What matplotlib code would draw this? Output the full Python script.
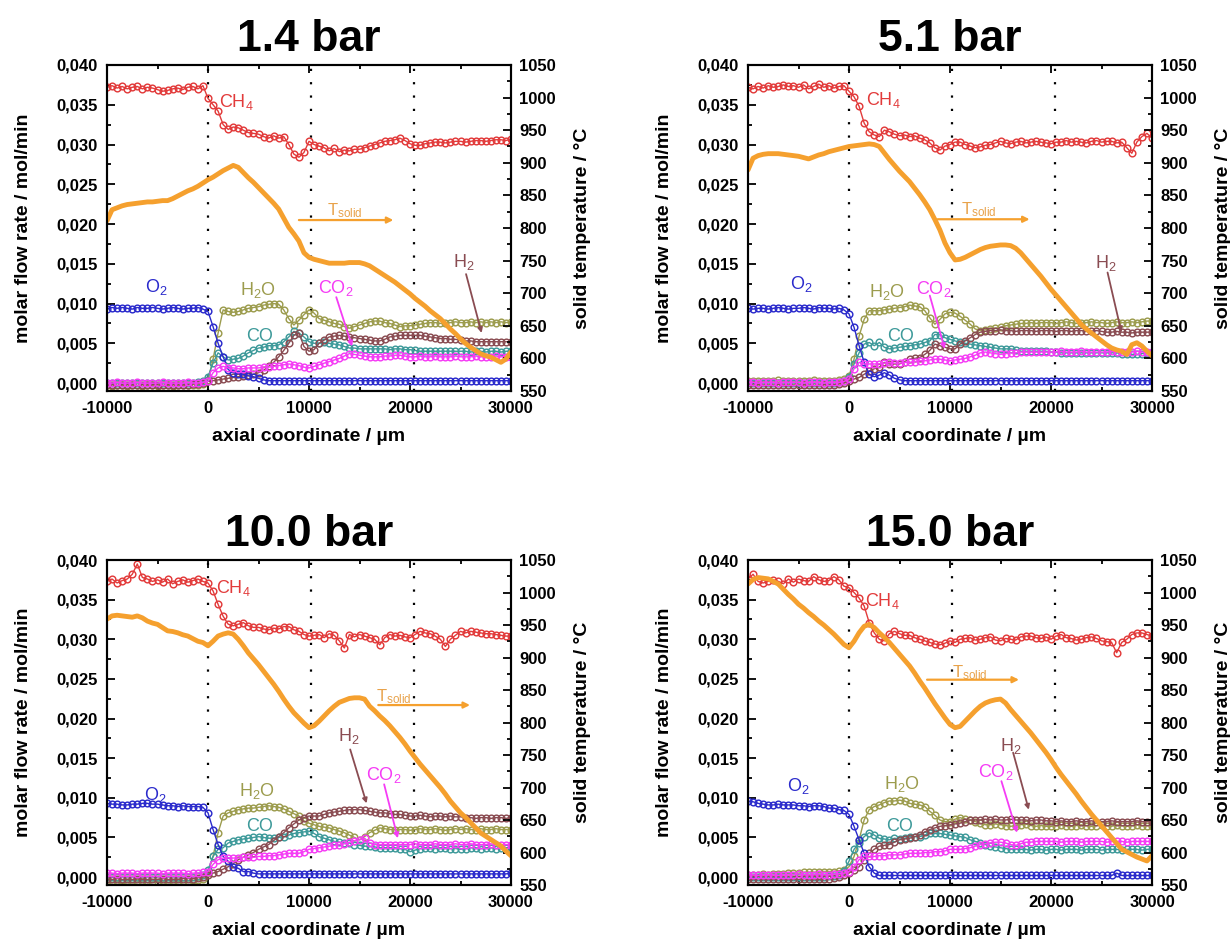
import numpy as np
import matplotlib
matplotlib.use('Agg')
import matplotlib.pyplot as plt
from matplotlib.ticker import MultipleLocator, FuncFormatter

plt.rcParams['font.family'] = ['Liberation Sans', 'DejaVu Sans']
plt.rcParams['mathtext.default'] = 'regular'

# axial positions of the measurement points, um
x_um = np.arange(-10000, 30001, 500)

# molar flow rates in 1e-3 mol/min, solid temperature in degC
# ---- 1.4 bar
ch4_14 = [37.2, 37.4, 37.1, 37.3, 37.0, 37.2, 37.3, 37.0, 37.2, 37.1,
          36.9, 36.7, 36.8, 37.0, 37.1, 36.9, 37.2, 37.3, 37.0, 37.4,
          35.8, 35.0, 34.2, 32.5, 31.9, 32.2, 32.1, 31.8, 31.5, 31.4,
          31.3, 31.0, 30.8, 31.1, 30.8, 31.0, 30.0, 28.8, 28.4, 29.0,
          30.4, 30.0, 29.8, 29.6, 29.2, 29.5, 29.1, 29.3, 29.2, 29.4,
          29.4, 29.6, 29.8, 30.0, 30.2, 30.4, 30.5, 30.6, 30.8, 30.5,
          30.1, 29.9, 29.9, 30.1, 30.2, 30.3, 30.3, 30.2, 30.3, 30.4,
          30.4, 30.3, 30.4, 30.5, 30.5, 30.4, 30.5, 30.6, 30.6, 30.5,
          30.7]
o2_14 = [9.3, 9.5, 9.4, 9.5, 9.4, 9.3, 9.5, 9.4, 9.4, 9.5,
         9.4, 9.3, 9.4, 9.5, 9.4, 9.3, 9.4, 9.4, 9.5, 9.3,
         9.0, 7.1, 5.0, 3.3, 1.7, 1.3, 1.2, 1.1, 0.9, 0.8,
         0.6, 0.4, 0.3, 0.3, 0.3, 0.3, 0.3, 0.3, 0.3, 0.3,
         0.3, 0.3, 0.3, 0.3, 0.3, 0.3, 0.3, 0.3, 0.3, 0.3,
         0.3, 0.3, 0.3, 0.3, 0.3, 0.3, 0.3, 0.3, 0.3, 0.3,
         0.3, 0.3, 0.3, 0.3, 0.3, 0.3, 0.3, 0.3, 0.3, 0.3,
         0.3, 0.3, 0.3, 0.3, 0.3, 0.3, 0.3, 0.3, 0.3, 0.3,
         0.3]
h2o_14 = [-0.3, -0.4, -0.3, -0.3, -0.4, -0.3, -0.3, -0.4, -0.3, -0.3,
          -0.4, -0.3, -0.3, -0.4, -0.3, -0.3, -0.3, -0.2, -0.2, -0.1,
          0.4, 3.0, 6.3, 9.2, 9.0, 8.9, 9.0, 9.2, 9.4, 9.5,
          9.6, 9.8, 9.9, 10.0, 9.9, 9.2, 8.1, 7.3, 7.9, 8.6,
          9.2, 8.8, 8.1, 7.9, 7.7, 7.5, 7.4, 7.1, 6.9, 7.1,
          7.3, 7.5, 7.7, 7.8, 7.8, 7.6, 7.5, 7.3, 7.1, 7.2,
          7.2, 7.3, 7.4, 7.5, 7.6, 7.6, 7.5, 7.6, 7.6, 7.7,
          7.6, 7.6, 7.7, 7.6, 7.7, 7.6, 7.7, 7.6, 7.7, 7.6,
          7.7]
co_14 = [0.0, 0.0, 0.0, 0.0, 0.0, 0.0, 0.0, 0.0, 0.0, 0.0,
         0.0, 0.0, 0.0, 0.0, 0.0, 0.0, 0.0, 0.0, 0.1, 0.2,
         0.8, 2.5, 3.8, 3.3, 2.9, 3.0, 3.1, 3.4, 3.8, 4.1,
         4.4, 4.5, 4.7, 4.7, 4.8, 5.2, 5.8, 6.5, 6.3, 5.8,
         5.2, 5.0, 5.0, 5.1, 5.0, 4.9, 4.8, 4.6, 4.4, 4.4,
         4.3, 4.3, 4.3, 4.3, 4.3, 4.3, 4.2, 4.3, 4.3, 4.2,
         4.2, 4.1, 4.0, 4.0, 4.0, 4.0, 4.0, 4.0, 4.0, 4.0,
         4.0, 4.0, 3.9, 4.0, 4.0, 3.9, 4.0, 4.0, 3.9, 4.0,
         4.0]
co2_14 = [0.0, 0.0, 0.1, 0.0, 0.0, 0.0, 0.1, 0.0, 0.0, 0.0,
          0.0, 0.1, 0.0, 0.0, 0.0, 0.0, 0.1, 0.0, 0.0, 0.1,
          0.2, 1.3, 1.9, 2.1, 1.9, 1.9, 1.8, 1.8, 1.9, 1.9,
          1.9, 2.0, 2.0, 2.1, 2.2, 2.3, 2.4, 2.3, 2.2, 2.0,
          1.9, 2.1, 2.3, 2.5, 2.7, 2.9, 3.1, 3.4, 3.7, 3.6,
          3.5, 3.4, 3.3, 3.3, 3.3, 3.4, 3.4, 3.5, 3.5, 3.4,
          3.3, 3.3, 3.4, 3.3, 3.3, 3.4, 3.3, 3.3, 3.3, 3.4,
          3.3, 3.3, 3.3, 3.4, 3.3, 3.3, 3.3, 3.4, 3.3, 3.3,
          3.3]
h2_14 = [-0.2, -0.2, -0.3, -0.2, -0.2, -0.2, -0.3, -0.2, -0.2, -0.2,
         -0.2, -0.3, -0.2, -0.2, -0.2, -0.2, -0.2, -0.1, -0.1, 0.0,
         0.2, 0.3, 0.4, 0.5, 0.6, 0.7, 0.8, 0.9, 1.0, 1.1,
         1.3, 1.6, 2.1, 2.6, 3.3, 4.1, 5.0, 6.0, 6.3, 4.6,
         4.0, 4.2, 5.0, 5.4, 5.8, 5.9, 6.0, 5.9, 5.8, 5.7,
         5.6, 5.5, 5.4, 5.3, 5.3, 5.5, 5.8, 5.9, 6.0, 6.0,
         6.0, 6.0, 6.0, 5.9, 5.8, 5.7, 5.6, 5.6, 5.5, 5.5,
         5.4, 5.3, 5.3, 5.2, 5.2, 5.2, 5.2, 5.2, 5.2, 5.2,
         5.2]
t_14 = [811, 828, 831, 834, 836, 837, 838, 839, 840, 840,
        841, 842, 842, 845, 849, 853, 857, 860, 864, 869,
        874, 878, 883, 888, 892, 896, 893, 885, 877, 870,
        862, 854, 846, 838, 829, 815, 801, 791, 780, 762,
        755, 752, 750, 748, 746, 746, 746, 746, 747, 747,
        747, 745, 742, 737, 732, 727, 722, 717, 711, 705,
        699, 692, 686, 680, 673, 667, 661, 653, 645, 638,
        630, 623, 617, 612, 607, 604, 602, 598, 594, 599,
        610]

# ---- 5.1 bar
ch4_51 = [37.2, 37.0, 37.3, 37.1, 37.4, 37.2, 37.3, 37.5, 37.3, 37.4,
          37.2, 37.5, 37.0, 37.3, 37.6, 37.2, 37.4, 37.1, 37.3, 37.4,
          36.7, 36.0, 34.8, 32.7, 31.6, 31.2, 31.0, 31.8, 31.6, 31.3,
          31.1, 31.2, 31.0, 31.1, 30.8, 30.6, 30.2, 29.6, 29.3, 29.8,
          30.0, 30.3, 30.3, 30.0, 29.8, 29.6, 29.7, 29.9, 30.0, 30.2,
          30.4, 30.2, 30.1, 30.3, 30.4, 30.2, 30.3, 30.4, 30.3, 30.2,
          30.1, 30.3, 30.3, 30.5, 30.3, 30.4, 30.3, 30.2, 30.4, 30.5,
          30.3, 30.4, 30.4, 30.2, 30.3, 29.6, 28.9, 30.3, 31.0, 31.4,
          30.8]
o2_51 = [9.4, 9.3, 9.4, 9.4, 9.3, 9.4, 9.5, 9.4, 9.3, 9.4,
         9.4, 9.5, 9.4, 9.3, 9.5, 9.4, 9.4, 9.3, 9.4, 9.2,
         8.7, 7.0, 4.7, 2.6, 1.1, 0.8, 1.0, 1.3, 1.0, 0.6,
         0.4, 0.3, 0.3, 0.3, 0.3, 0.3, 0.3, 0.3, 0.3, 0.3,
         0.3, 0.3, 0.3, 0.3, 0.3, 0.3, 0.3, 0.3, 0.3, 0.3,
         0.3, 0.3, 0.3, 0.3, 0.3, 0.3, 0.3, 0.3, 0.3, 0.3,
         0.3, 0.3, 0.3, 0.3, 0.3, 0.3, 0.3, 0.3, 0.3, 0.3,
         0.3, 0.3, 0.3, 0.3, 0.3, 0.3, 0.3, 0.3, 0.3, 0.3,
         0.3]
h2o_51 = [0.3, 0.2, 0.3, 0.3, 0.2, 0.3, 0.4, 0.3, 0.2, 0.3,
          0.3, 0.2, 0.3, 0.4, 0.3, 0.2, 0.3, 0.3, 0.4, 0.5,
          0.9, 3.0, 5.9, 8.0, 9.1, 9.1, 9.1, 9.2, 9.3, 9.4,
          9.5, 9.6, 9.8, 9.7, 9.6, 9.1, 8.2, 7.4, 8.0, 8.7,
          8.9, 8.8, 8.4, 7.9, 7.4, 6.8, 6.6, 6.7, 6.8, 6.9,
          7.0, 7.2, 7.3, 7.4, 7.5, 7.5, 7.6, 7.5, 7.6, 7.6,
          7.6, 7.5, 7.6, 7.7, 7.6, 7.5, 7.6, 7.6, 7.7, 7.6,
          7.6, 7.5, 7.6, 7.7, 7.6, 7.6, 7.7, 7.6, 7.7, 7.8,
          7.8]
co_51 = [0.0, 0.0, 0.0, 0.0, 0.0, 0.0, 0.0, 0.0, 0.0, 0.0,
         0.0, 0.0, 0.0, 0.0, 0.0, 0.0, 0.0, 0.0, 0.1, 0.2,
         0.7, 2.4, 3.8, 4.9, 5.1, 4.7, 5.1, 4.5, 4.3, 4.4,
         4.5, 4.6, 4.7, 4.8, 4.9, 5.1, 5.3, 6.1, 6.1, 5.7,
         5.5, 5.3, 5.1, 5.0, 4.9, 4.8, 4.7, 4.6, 4.5, 4.4,
         4.3, 4.3, 4.3, 4.2, 4.0, 4.0, 4.0, 4.0, 4.0, 4.0,
         3.9, 3.9, 3.8, 3.8, 3.8, 3.8, 3.8, 3.8, 3.8, 3.8,
         3.8, 3.8, 3.8, 3.8, 3.7, 3.7, 3.6, 3.6, 3.7, 3.8,
         3.8]
co2_51 = [0.1, 0.1, 0.0, 0.1, 0.1, 0.1, 0.0, 0.1, 0.1, 0.1,
          0.1, 0.0, 0.1, 0.1, 0.1, 0.0, 0.1, 0.1, 0.1, 0.2,
          0.5, 1.8, 2.6, 2.4, 2.4, 2.4, 2.4, 2.5, 2.6, 2.5,
          2.5, 2.6, 2.6, 2.7, 2.8, 2.8, 2.9, 3.0, 3.0, 2.9,
          2.8, 2.9, 3.0, 3.1, 3.3, 3.5, 3.8, 3.9, 3.8, 3.7,
          3.6, 3.7, 3.8, 3.8, 3.9, 3.9, 3.9, 3.9, 3.9, 3.9,
          3.9, 3.9, 4.0, 3.9, 3.9, 3.9, 4.0, 3.9, 3.9, 3.9,
          3.9, 3.9, 4.0, 3.9, 3.9, 3.9, 3.9, 4.0, 3.9, 3.9,
          3.9]
h2_51 = [-0.3, -0.3, -0.2, -0.3, -0.3, -0.3, -0.2, -0.3, -0.3, -0.3,
         -0.3, -0.2, -0.3, -0.3, -0.3, -0.2, -0.2, -0.2, -0.1, 0.0,
         0.3, 0.5, 0.7, 1.1, 1.5, 1.8, 2.0, 2.6, 2.4, 2.4,
         2.4, 2.7, 3.0, 3.1, 3.2, 3.6, 4.1, 4.9, 4.7, 4.5,
         4.3, 4.3, 4.9, 5.3, 5.7, 6.1, 6.4, 6.5, 6.6, 6.6,
         6.7, 6.6, 6.6, 6.5, 6.6, 6.6, 6.6, 6.5, 6.6, 6.6,
         6.6, 6.5, 6.6, 6.6, 6.5, 6.6, 6.6, 6.5, 6.5, 6.6,
         6.5, 6.4, 6.4, 6.5, 6.4, 6.4, 6.3, 6.4, 6.4, 6.4,
         6.4]
t_51 = [889, 907, 911, 913, 914, 914, 914, 913, 912, 911,
        910, 908, 906, 909, 912, 914, 917, 919, 921, 923,
        925, 926, 927, 928, 929, 928, 925, 915, 905, 896,
        887, 879, 871, 861, 851, 840, 828, 813, 797, 777,
        762, 751, 752, 755, 759, 763, 767, 770, 772, 773,
        774, 774, 773, 769, 762, 753, 744, 735, 726, 716,
        706, 697, 688, 679, 670, 661, 652, 645, 639, 633,
        627, 621, 616, 613, 611, 606, 621, 624, 619, 611,
        604]

# ---- 10.0 bar
ch4_10 = [37.3, 37.6, 37.1, 37.4, 37.6, 38.2, 39.5, 37.8, 37.6, 37.3,
          37.5, 37.2, 37.6, 37.0, 37.3, 37.5, 37.2, 37.4, 37.6, 37.3,
          37.1, 36.1, 34.4, 32.9, 31.9, 31.7, 31.9, 32.1, 31.7, 31.5,
          31.5, 31.3, 31.2, 31.4, 31.3, 31.6, 31.6, 31.2, 31.0, 30.6,
          30.4, 30.5, 30.6, 30.2, 30.7, 30.5, 29.8, 28.9, 30.6, 30.3,
          30.6, 30.4, 30.2, 30.0, 29.3, 30.2, 30.6, 30.4, 30.5, 30.3,
          30.2, 30.6, 31.0, 30.8, 30.7, 30.4, 30.0, 29.1, 30.0, 30.5,
          31.0, 30.8, 31.0, 30.9, 30.8, 30.7, 30.7, 30.6, 30.5, 30.4,
          30.4]
o2_10 = [9.3, 9.2, 9.2, 9.1, 9.1, 9.2, 9.2, 9.3, 9.3, 9.2,
         9.2, 9.1, 9.0, 9.0, 8.9, 9.0, 8.9, 8.9, 8.9, 8.8,
         8.1, 6.0, 4.1, 2.6, 2.0, 1.3, 1.1, 0.7, 0.7, 0.5,
         0.4, 0.4, 0.4, 0.4, 0.4, 0.4, 0.4, 0.4, 0.4, 0.4,
         0.4, 0.4, 0.4, 0.4, 0.4, 0.4, 0.4, 0.4, 0.4, 0.4,
         0.4, 0.4, 0.4, 0.4, 0.4, 0.4, 0.4, 0.4, 0.4, 0.4,
         0.4, 0.4, 0.4, 0.4, 0.4, 0.4, 0.4, 0.4, 0.4, 0.4,
         0.4, 0.4, 0.4, 0.4, 0.4, 0.4, 0.4, 0.4, 0.4, 0.4,
         0.5]
h2o_10 = [-0.6, -0.7, -0.5, -0.8, -0.6, -0.7, -0.6, -0.5, -0.7, -0.6,
          -0.6, -0.5, -0.7, -0.6, -0.6, -0.5, -0.5, -0.4, -0.4, -0.2,
          0.5, 2.6, 5.6, 7.7, 8.1, 8.3, 8.5, 8.6, 8.7, 8.7,
          8.8, 8.9, 9.0, 8.9, 8.8, 8.6, 8.3, 8.0, 7.7, 7.1,
          6.8, 6.6, 6.4, 6.3, 6.2, 6.0, 5.8, 5.6, 5.3, 5.0,
          4.7, 5.1, 5.6, 5.9, 6.2, 6.1, 6.0, 6.0, 6.0, 6.0,
          5.9, 6.0, 6.1, 6.0, 6.0, 6.1, 6.0, 5.9, 6.0, 6.1,
          6.0, 6.1, 6.0, 6.0, 6.1, 6.0, 6.0, 6.1, 6.0, 6.0,
          6.0]
co_10 = [0.0, 0.0, 0.0, 0.0, 0.0, 0.0, 0.0, 0.0, 0.0, 0.0,
         0.0, 0.0, 0.0, 0.0, 0.0, 0.0, 0.0, 0.0, 0.1, 0.3,
         0.9, 2.6, 3.5, 3.7, 4.3, 4.5, 4.7, 4.8, 4.9, 5.0,
         5.1, 5.0, 4.9, 4.9, 5.0, 5.1, 5.3, 5.5, 5.6, 5.7,
         5.8, 5.5, 5.1, 4.9, 4.7, 4.5, 4.4, 4.3, 4.3, 4.1,
         4.0, 3.9, 3.9, 3.8, 3.7, 3.7, 3.7, 3.7, 3.6, 3.5,
         3.2, 3.4, 3.6, 3.7, 3.7, 3.6, 3.7, 3.7, 3.6, 3.6,
         3.5, 3.6, 3.7, 3.7, 3.6, 3.7, 3.7, 3.6, 3.7, 3.7,
         3.7]
co2_10 = [0.5, 0.5, 0.4, 0.5, 0.5, 0.5, 0.4, 0.5, 0.5, 0.5,
          0.5, 0.4, 0.5, 0.5, 0.5, 0.5, 0.4, 0.5, 0.5, 0.6,
          0.7, 1.6, 2.2, 2.4, 2.4, 2.4, 2.4, 2.5, 2.5, 2.5,
          2.6, 2.6, 2.7, 2.7, 2.8, 2.9, 3.0, 3.0, 3.0, 3.2,
          3.5, 3.6, 3.7, 3.8, 3.9, 4.0, 4.1, 4.2, 4.4, 4.6,
          4.7, 4.9, 4.3, 4.1, 4.1, 4.1, 4.1, 4.1, 4.1, 4.1,
          4.1, 4.2, 4.1, 4.1, 4.1, 4.2, 4.1, 4.1, 4.1, 4.2,
          4.1, 4.1, 4.2, 4.1, 4.1, 4.1, 4.2, 4.1, 4.1, 4.1,
          4.1]
h2_10 = [-0.3, -0.3, -0.2, -0.3, -0.3, -0.3, -0.2, -0.3, -0.3, -0.3,
         -0.3, -0.2, -0.3, -0.3, -0.3, -0.2, -0.2, -0.2, -0.1, 0.0,
         0.3, 0.5, 0.7, 1.0, 1.3, 1.7, 2.2, 2.5, 2.8, 3.1,
         3.5, 3.8, 4.1, 4.6, 5.1, 5.6, 6.2, 6.7, 7.2, 7.5,
         7.7, 7.7, 7.7, 7.9, 8.1, 8.2, 8.3, 8.4, 8.5, 8.5,
         8.5, 8.4, 8.3, 8.2, 8.1, 8.1, 8.0, 7.9, 7.9, 7.8,
         7.7, 7.7, 7.8, 7.7, 7.6, 7.7, 7.7, 7.6, 7.7, 7.6,
         7.6, 7.5, 7.5, 7.4, 7.5, 7.5, 7.4, 7.5, 7.5, 7.4,
         7.5]
t_10 = [959, 964, 965, 964, 963, 962, 964, 961, 956, 953,
        951, 946, 941, 940, 938, 935, 933, 929, 925, 923,
        918, 925, 933, 936, 938, 936, 928, 918, 907, 898,
        889, 879, 869, 859, 848, 836, 825, 815, 807, 799,
        792, 795, 802, 810, 818, 825, 831, 834, 837, 838,
        838, 836, 825, 818, 810, 803, 795, 786, 777, 767,
        756, 746, 736, 727, 718, 709, 700, 690, 679, 670,
        661, 654, 646, 638, 630, 625, 620, 615, 610, 602,
        595]

# ---- 15.0 bar
ch4_15 = [37.6, 38.2, 37.3, 37.1, 37.3, 37.5, 37.3, 37.0, 37.6, 37.2,
          37.6, 37.4, 37.3, 37.9, 37.5, 37.3, 37.4, 37.9, 37.5, 36.7,
          36.5, 35.9, 35.2, 34.2, 32.1, 30.8, 30.0, 29.8, 30.7, 31.0,
          30.7, 30.5, 30.5, 30.2, 30.0, 29.8, 29.6, 29.4, 29.3, 29.5,
          29.8, 29.6, 30.0, 30.1, 30.2, 29.9, 30.0, 30.2, 30.3, 29.9,
          29.8, 30.1, 30.0, 29.9, 30.3, 30.4, 30.4, 30.2, 30.1, 30.3,
          30.0, 30.4, 30.6, 30.2, 30.1, 29.9, 30.0, 30.2, 30.3, 30.1,
          29.8, 29.7, 29.6, 28.3, 29.6, 30.0, 30.6, 30.8, 30.8, 30.6,
          30.4]
o2_15 = [9.6, 9.5, 9.3, 9.2, 9.1, 9.1, 9.2, 9.1, 9.1, 9.1,
         9.0, 9.0, 8.9, 9.0, 9.0, 8.9, 8.7, 8.7, 8.5, 8.4,
         7.9, 6.4, 4.7, 3.0, 1.3, 0.5, 0.2, 0.2, 0.2, 0.2,
         0.2, 0.2, 0.2, 0.2, 0.2, 0.2, 0.2, 0.2, 0.2, 0.2,
         0.2, 0.2, 0.2, 0.2, 0.2, 0.2, 0.2, 0.2, 0.2, 0.2,
         0.2, 0.2, 0.2, 0.2, 0.2, 0.2, 0.2, 0.2, 0.2, 0.2,
         0.2, 0.2, 0.2, 0.2, 0.2, 0.2, 0.2, 0.2, 0.2, 0.2,
         0.2, 0.2, 0.2, 0.5, 0.2, 0.2, 0.2, 0.2, 0.2, 0.2,
         0.2]
h2o_15 = [0.3, 0.3, 0.3, 0.4, 0.3, 0.4, 0.4, 0.4, 0.5, 0.5,
          0.5, 0.6, 0.6, 0.6, 0.6, 0.7, 0.7, 0.7, 0.8, 0.9,
          1.3, 2.6, 4.7, 7.2, 8.5, 8.9, 9.1, 9.4, 9.6, 9.6,
          9.7, 9.6, 9.3, 9.2, 9.1, 8.9, 8.3, 7.8, 7.2, 7.0,
          7.0, 7.3, 7.5, 7.3, 7.2, 7.0, 6.8, 6.6, 6.6, 6.7,
          6.6, 6.5, 6.4, 6.5, 6.6, 6.7, 6.5, 6.4, 6.5, 6.4,
          6.4, 6.5, 6.6, 6.5, 6.4, 6.5, 6.6, 6.5, 6.4, 6.5,
          6.6, 6.5, 6.4, 6.6, 6.5, 6.4, 6.5, 6.6, 6.5, 6.5,
          6.5]
co_15 = [0.0, 0.0, 0.0, 0.0, 0.0, 0.0, 0.0, 0.0, 0.0, 0.0,
         0.0, 0.0, 0.0, 0.0, 0.0, 0.0, 0.1, 0.1, 0.3, 0.8,
         2.0, 3.5, 4.3, 5.1, 5.6, 5.3, 4.9, 4.8, 4.7, 4.9,
         4.8, 4.9, 5.1, 5.1, 5.1, 5.3, 5.6, 5.5, 5.5, 5.4,
         5.3, 5.2, 5.1, 5.0, 4.7, 4.5, 4.3, 4.1, 3.9, 3.8,
         3.7, 3.6, 3.5, 3.5, 3.5, 3.5, 3.4, 3.5, 3.5, 3.4,
         3.5, 3.5, 3.4, 3.5, 3.5, 3.5, 3.4, 3.5, 3.5, 3.5,
         3.4, 3.5, 3.5, 3.5, 3.4, 3.5, 3.5, 3.5, 3.4, 3.5,
         3.5]
co2_15 = [0.3, 0.3, 0.2, 0.3, 0.3, 0.3, 0.2, 0.3, 0.3, 0.3,
          0.4, 0.3, 0.3, 0.3, 0.4, 0.3, 0.3, 0.4, 0.4, 0.5,
          0.7, 1.3, 2.2, 2.6, 2.6, 2.6, 2.7, 2.7, 2.8, 2.8,
          2.8, 2.9, 3.0, 3.0, 3.0, 3.1, 3.1, 3.2, 3.2, 3.3,
          3.5, 3.5, 3.5, 3.6, 3.7, 3.9, 4.1, 4.2, 4.3, 4.4,
          4.4, 4.3, 4.1, 4.0, 4.2, 4.4, 4.4, 4.5, 4.5, 4.5,
          4.5, 4.5, 4.4, 4.5, 4.5, 4.5, 4.4, 4.5, 4.5, 4.5,
          4.5, 4.4, 4.5, 4.5, 4.5, 4.4, 4.5, 4.5, 4.5, 4.5,
          4.5]
h2_15 = [-0.3, -0.3, -0.2, -0.3, -0.3, -0.3, -0.2, -0.3, -0.3, -0.3,
         -0.3, -0.2, -0.3, -0.3, -0.3, -0.2, -0.2, -0.1, 0.0, 0.2,
         0.5, 0.9, 1.3, 2.2, 3.0, 3.5, 3.9, 4.0, 4.1, 4.4,
         4.7, 4.8, 4.9, 5.1, 5.3, 5.7, 6.0, 6.2, 6.4, 6.5,
         6.6, 6.7, 6.8, 7.0, 7.2, 7.2, 7.2, 7.3, 7.2, 7.3,
         7.2, 7.2, 7.3, 7.2, 7.2, 7.2, 7.1, 7.2, 7.2, 7.1,
         7.1, 7.0, 7.1, 7.0, 7.0, 7.1, 7.0, 7.0, 7.1, 7.0,
         7.0, 7.0, 7.1, 7.0, 7.0, 7.0, 7.0, 7.1, 7.0, 7.0,
         7.0]
t_15 = [1013, 1020, 1023, 1022, 1021, 1017, 1013, 1005, 997, 990,
        982, 976, 969, 963, 956, 950, 943, 936, 928, 920,
        915, 925, 938, 948, 951, 946, 938, 931, 923, 914,
        905, 896, 887, 876, 864, 853, 841, 829, 818, 807,
        797, 792, 794, 802, 810, 818, 825, 830, 833, 835,
        836, 830, 820, 811, 802, 793, 784, 774, 764, 754,
        743, 731, 720, 710, 700, 690, 679, 669, 659, 650,
        641, 632, 623, 614, 605, 601, 597, 593, 590, 587,
        595]

pressures = ['1.4 bar', '5.1 bar', '10.0 bar', '15.0 bar']
species = ['H$_2$O', 'CO', 'H$_2$', 'O$_2$', 'CH$_4$', 'CO$_2$']
seg_bounds = [0, 10150, 20400]

col = {'CH$_4$': '#e23b3b', 'O$_2$': '#2b2bcc', 'H$_2$O': '#9c9c4e',
       'CO': '#3e9a9a', 'CO$_2$': '#f53cf5', 'H$_2$': '#8a4c52'}
col_t = '#f5a02e'

flows = [
    {'H$_2$O': h2o_14, 'CO': co_14, 'H$_2$': h2_14, 'O$_2$': o2_14, 'CH$_4$': ch4_14, 'CO$_2$': co2_14},
    {'H$_2$O': h2o_51, 'CO': co_51, 'H$_2$': h2_51, 'O$_2$': o2_51, 'CH$_4$': ch4_51, 'CO$_2$': co2_51},
    {'H$_2$O': h2o_10, 'CO': co_10, 'H$_2$': h2_10, 'O$_2$': o2_10, 'CH$_4$': ch4_10, 'CO$_2$': co2_10},
    {'H$_2$O': h2o_15, 'CO': co_15, 'H$_2$': h2_15, 'O$_2$': o2_15, 'CH$_4$': ch4_15, 'CO$_2$': co2_15},
]
temps = [t_14, t_51, t_10, t_15]

# label placement (x in um, y in mol/min); arrows as (x0, y0, x1, y1)
label_pos = [
    {'CH$_4$': (2800, 0.0354), 'O$_2$': (-5150, 0.0121), 'H$_2$O': (4950, 0.0117),
     'CO': (5150, 0.0058), 'CO$_2$': (12700, 0.0120), 'H$_2$': (25350, 0.0152), 'T': (13500, 0.0217)},
    {'CH$_4$': (3360, 0.0356), 'O$_2$': (-4770, 0.0124), 'H$_2$O': (3740, 0.0114),
     'CO': (5100, 0.0059), 'CO$_2$': (8390, 0.0118), 'H$_2$': (25400, 0.0151), 'T': (12840, 0.0218)},
    {'CH$_4$': (2560, 0.0365), 'O$_2$': (-5170, 0.0104), 'H$_2$O': (4880, 0.0108),
     'CO': (5070, 0.0064), 'CO$_2$': (17440, 0.0129), 'H$_2$': (13960, 0.0178), 'T': (18400, 0.0228)},
    {'CH$_4$': (3280, 0.0348), 'O$_2$': (-5040, 0.0115), 'H$_2$O': (5220, 0.0117),
     'CO': (5020, 0.0064), 'CO$_2$': (14510, 0.0133), 'H$_2$': (16060, 0.0165), 'T': (12000, 0.0258)},
]
arrows = [
    {'CO$_2$': (12700, 0.0108, 14270, 0.0046), 'H$_2$': (25550, 0.0137, 27090, 0.0063), 'T': (9000, 0.0205, 18350, 0.0205)},
    {'CO$_2$': (8000, 0.0110, 9470, 0.0043), 'H$_2$': (25600, 0.0139, 26970, 0.0064), 'T': (8780, 0.0206, 17880, 0.0206)},
    {'CO$_2$': (17440, 0.0117, 18790, 0.0049), 'H$_2$': (14080, 0.0161, 15700, 0.0093), 'T': (16860, 0.0217, 25940, 0.0217)},
    {'CO$_2$': (15090, 0.0121, 16640, 0.0056), 'H$_2$': (16250, 0.0157, 17800, 0.0085), 'T': (7730, 0.0249, 16830, 0.0249)},
]

W, H = 1230, 946
# axes boxes in pixels: left, top, right, bottom
boxes = [(107, 65, 511, 391), (748, 65, 1152, 391),
         (107, 560, 511, 885), (748, 560, 1152, 885)]

fig = plt.figure(figsize=(W / 100, H / 100), dpi=100)

comma = FuncFormatter(lambda v, p: ('%.3f' % v).replace('.', ','))
intfmt = FuncFormatter(lambda v, p: '%d' % round(v))

for k in range(4):
    l, t, r, b = boxes[k]
    ax = fig.add_axes([l / W, 1 - b / H, (r - l) / W, (b - t) / H])
    ax2 = ax.twinx()

    for xv in seg_bounds:
        ax.axvline(xv, color='k', ls=(0, (1, 5)), lw=1.6, zorder=1.5)

    for name in species:
        ax.plot(x_um, np.array(flows[k][name]) * 1e-3, '-o', color=col[name],
                mfc='none', ms=4.8, mew=1.05, lw=1.0)

    ax2.plot(x_um, temps[k], color=col_t, lw=3.5, solid_capstyle='round')

    ax.set_xlim(-10000, 30000)
    ax.set_ylim(-0.001, 0.040)
    ax2.set_ylim(550, 1050)
    ax.xaxis.set_major_locator(MultipleLocator(10000))
    ax.xaxis.set_minor_locator(MultipleLocator(5000))
    ax.yaxis.set_major_locator(MultipleLocator(0.005))
    ax.yaxis.set_minor_locator(MultipleLocator(0.0025))
    ax2.yaxis.set_major_locator(MultipleLocator(50))
    ax2.yaxis.set_minor_locator(MultipleLocator(25))
    ax.yaxis.set_major_formatter(comma)
    ax.xaxis.set_major_formatter(intfmt)
    ax2.yaxis.set_major_formatter(intfmt)

    ax.tick_params(which='both', direction='in', top=True, right=False, width=1.3)
    ax.tick_params(which='major', length=5.5, labelsize=12, pad=7)
    ax.tick_params(which='minor', length=3)
    ax2.tick_params(which='both', direction='in', width=1.3)
    ax2.tick_params(which='major', length=5.5, labelsize=12, pad=6)
    ax2.tick_params(which='minor', length=3)
    for lab in ax.get_xticklabels() + ax.get_yticklabels() + ax2.get_yticklabels():
        lab.set_fontweight('bold')
    for a in (ax, ax2):
        for s in a.spines.values():
            s.set_linewidth(1.5)

    ax.set_xlabel('axial coordinate / µm', fontsize=14, fontweight='bold')
    ax.set_ylabel('molar flow rate / mol/min', fontsize=14, fontweight='bold')
    ax2.set_ylabel('solid temperature / °C', fontsize=14, fontweight='bold')
    ax.xaxis.set_label_coords(0.5, -0.115)
    ax.yaxis.set_label_coords(-0.185, 0.5)
    ax2.yaxis.set_label_coords(1.155, 0.5)

    ax.text(0.5, 1 + 14 / (b - t), pressures[k], transform=ax.transAxes,
            ha='center', va='baseline', fontsize=32, fontweight='bold')

    for name in species:
        px, py = label_pos[k][name]
        ax.text(px, py, name, color=col[name], fontsize=13, ha='center', va='center', zorder=5)
    px, py = label_pos[k]['T']
    ax.text(px, py, 'T$_{solid}$', color='#e8a24a', fontsize=12, ha='center', va='center', zorder=5)

    for name in ['CO$_2$', 'H$_2$']:
        x0, y0, x1, y1 = arrows[k][name]
        ax.annotate('', xy=(x1, y1), xytext=(x0, y0),
                    arrowprops=dict(arrowstyle='-|>', color=col[name], lw=1.3,
                                    mutation_scale=7, shrinkA=0, shrinkB=0), zorder=5)
    x0, y0, x1, y1 = arrows[k]['T']
    ax.annotate('', xy=(x1, y1), xytext=(x0, y0),
                arrowprops=dict(arrowstyle='-|>', color=col_t, lw=1.6,
                                mutation_scale=9, shrinkA=0, shrinkB=0), zorder=5)

fig.savefig('out.png', dpi=100)
